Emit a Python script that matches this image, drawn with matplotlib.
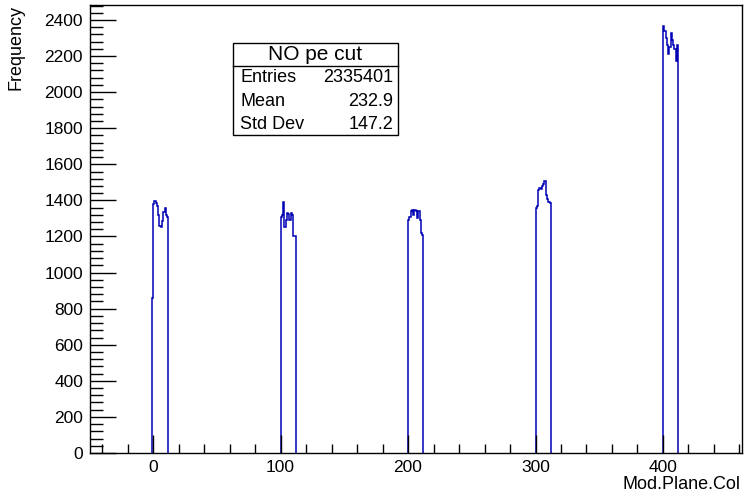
import numpy as np
import matplotlib
matplotlib.use("Agg")
import matplotlib.pyplot as plt
from matplotlib.ticker import MultipleLocator

plt.rcParams['font.family'] = ['Liberation Sans', 'DejaVu Sans']

# ---- data ----
module_starts = [0, 100, 200, 300, 400]
module_counts = [
    [1380, 1395, 1385, 1370, 1320, 1260, 1250, 1285, 1335, 1360, 1320, 1310],
    [1310, 1320, 1390, 1255, 1290, 1330, 1325, 1290, 1330, 1320, 1200, 1200],
    [1290, 1310, 1340, 1345, 1320, 1345, 1340, 1300, 1340, 1290, 1220, 1210],
    [1360, 1370, 1460, 1470, 1465, 1480, 1490, 1505, 1430, 1410, 1390, 1385],
    [2365, 2340, 2300, 2260, 2210, 2250, 2330, 2290, 2260, 2240, 2170, 2260],
]
lead_bin_value = 860  # narrow partial bin at the start of module 0

stat_title = "NO pe cut"
stat_names = ["Entries", "Mean", "Std Dev"]
stat_values = ["2335401", "232.9", "147.2"]

x_label = "Mod.Plane.Col"
y_label = "Frequency"

# ---- figure ----
W, H = 744, 495
fig = plt.figure(figsize=(W / 100, H / 100), dpi=100)
ax = fig.add_axes([90 / W, 1 - 453 / H, (742 - 90) / W, (453 - 5) / H])

line_color = "#0000b4"
for i, (start, vals) in enumerate(zip(module_starts, module_counts)):
    edges = start + np.arange(len(vals) + 1)
    values = list(vals)
    if i == 0:
        edges = np.concatenate([[start - 0.5], edges])
        values = [lead_bin_value] + values
    ax.stairs(values, edges, baseline=0, color=line_color, linewidth=1.1, zorder=2)

ax.set_xlim(-49.5, 462)
ax.set_ylim(0, 2483)

ax.xaxis.set_major_locator(MultipleLocator(100))
ax.xaxis.set_minor_locator(MultipleLocator(20))
ax.yaxis.set_major_locator(MultipleLocator(200))
ax.yaxis.set_minor_locator(MultipleLocator(40))

ax.tick_params(axis='both', which='both', direction='in', top=False, right=False,
               labelsize=12.5, colors='black', width=1.0)
ax.tick_params(axis='x', which='major', length=13, pad=5)
ax.tick_params(axis='x', which='minor', length=6.5)
ax.tick_params(axis='y', which='major', length=19, pad=5)
ax.tick_params(axis='y', which='minor', length=9.5)
ax.set_axisbelow(False)

for sp in ax.spines.values():
    sp.set_linewidth(1.0)
    sp.set_color('black')

ax.set_xlabel(x_label, fontsize=13, loc='right')
ax.xaxis.set_label_coords(0.997, -0.052)
ax.set_ylabel(y_label, fontsize=13, loc='top')
ax.yaxis.set_label_coords(-0.1, 1.0)

# ---- stat box ----
bx0, bx1 = 233 / W, 398 / W
by_top, by_sep, by_bot = 1 - 43 / H, 1 - 66 / H, 1 - 135 / H
box = plt.Rectangle((bx0, by_bot), bx1 - bx0, by_top - by_bot, transform=fig.transFigure,
                    facecolor='white', edgecolor='black', linewidth=1.0, zorder=5)
fig.add_artist(box)
fig.add_artist(plt.Line2D([bx0, bx1], [by_sep, by_sep], transform=fig.transFigure,
                          color='black', linewidth=1.0, zorder=6))
fig.text((bx0 + bx1) / 2, 1 - 54.5 / H, stat_title, ha='center', va='center',
         fontsize=15, zorder=7)
row_y = [77, 101, 124]
for name, val, yy in zip(stat_names, stat_values, row_y):
    fig.text(240 / W, 1 - yy / H, name, ha='left', va='center', fontsize=13, zorder=7)
    fig.text(393 / W, 1 - yy / H, val, ha='right', va='center', fontsize=13, zorder=7)

fig.savefig("out.png", dpi=100)
